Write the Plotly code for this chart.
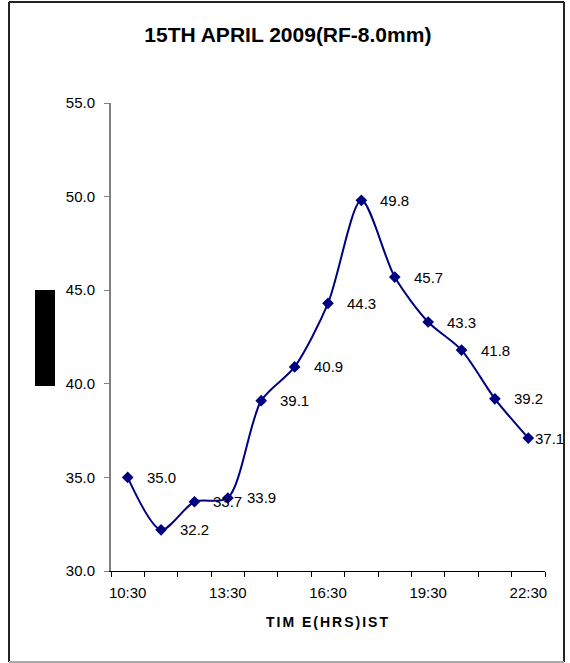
import plotly.graph_objects as go

# ---- data ----
times = ["10:30", "11:30", "12:30", "13:30", "14:30", "15:30", "16:30",
         "17:30", "18:30", "19:30", "20:30", "21:30", "22:30"]
values = [35.0, 32.2, 33.7, 33.9, 39.1, 40.9, 44.3, 49.8, 45.7, 43.3, 41.8, 39.2, 37.1]
tick_labels = ["10:30", "13:30", "16:30", "19:30", "22:30"]
y_ticks = [30, 35, 40, 45, 50, 55]

title_text = "15TH APRIL 2009(RF-8.0mm)"
x_title = "TIM E(HRS)IST"

FONT = "Liberation Sans, Arial, sans-serif"
NAVY = "#000080"

xs = list(range(len(times)))
tick_pos = [times.index(t) for t in tick_labels]

fig = go.Figure()
fig.add_trace(go.Scatter(
    x=xs, y=values, mode="lines+markers",
    line=dict(color=NAVY, width=2, shape="spline", smoothing=0.8),
    marker=dict(symbol="diamond", size=9, color=NAVY),
    hoverinfo="skip", showlegend=False,
))

annotations = []
for i, v in enumerate(values):
    shift = 5 if i == len(values) - 1 else 17
    annotations.append(dict(
        x=xs[i], y=v, xref="x", yref="y", text=f"{v:.1f}",
        showarrow=False, xanchor="left", yanchor="middle", xshift=shift,
        font=dict(family=FONT, size=15, color="#000000"),
    ))

annotations.append(dict(
    x=0.5, y=-0.109, xref="paper", yref="paper",
    text=f'<span style="letter-spacing:2px">{x_title}</span>',
    showarrow=False, xanchor="center", yanchor="middle",
    font=dict(family=FONT, size=14, color="#000000", weight="bold"),
))

shapes = [
    # black block (y-axis title area)
    dict(type="rect", xref="paper", yref="paper", x0=-0.1751, x1=-0.129,
         y0=0.3953, y1=0.6004, fillcolor="#000000", line=dict(width=0)),
    # chart frame
    dict(type="line", xref="paper", yref="paper", x0=-0.235, x1=1.0438,
         y0=1.2158, y1=1.2158, line=dict(color="#222222", width=2)),
    dict(type="line", xref="paper", yref="paper", x0=-0.235, x1=-0.235,
         y0=-0.1945, y1=1.2158, line=dict(color="#222222", width=2)),
    dict(type="line", xref="paper", yref="paper", x0=1.0438, x1=1.0438,
         y0=-0.1945, y1=1.2158, line=dict(color="#222222", width=2)),
    dict(type="line", xref="paper", yref="paper", x0=-0.235, x1=1.0438,
         y0=-0.1945, y1=-0.1945, line=dict(color="#aaaaaa", width=2)),
]

fig.update_layout(
    width=570, height=663,
    margin=dict(l=111, r=25, t=103, b=92),
    paper_bgcolor="white", plot_bgcolor="white",
    font=dict(family=FONT, size=15, color="#000000"),
    title=dict(text=title_text, x=0.505, xref="container", xanchor="center",
               y=1 - 35 / 663, yref="container", yanchor="middle",
               font=dict(family=FONT, size=21, color="#000000", weight="bold")),
    xaxis=dict(
        range=[-0.5, len(times) - 0.5], tickmode="array",
        tickvals=tick_pos, ticktext=tick_labels, ticks="",
        showline=True, linecolor="#000000", linewidth=1,
        showgrid=False, zeroline=False, ticklabelstandoff=8,
        tickfont=dict(family=FONT, size=15, color="#000000"),
        minor=dict(ticks="outside", tick0=-0.5, dtick=1, ticklen=5,
                   tickcolor="#000000", tickwidth=1, showgrid=False),
    ),
    yaxis=dict(
        range=[30, 55], tickmode="array", tickvals=y_ticks, tickformat=".1f",
        ticks="outside", ticklen=5, tickcolor="#808080", tickwidth=1,
        showline=True, linecolor="#808080", linewidth=2,
        showgrid=False, zeroline=False, ticklabelstandoff=6,
        tickfont=dict(family=FONT, size=15, color="#000000"),
    ),
    annotations=annotations, shapes=shapes,
)

fig.write_html("out.html")
